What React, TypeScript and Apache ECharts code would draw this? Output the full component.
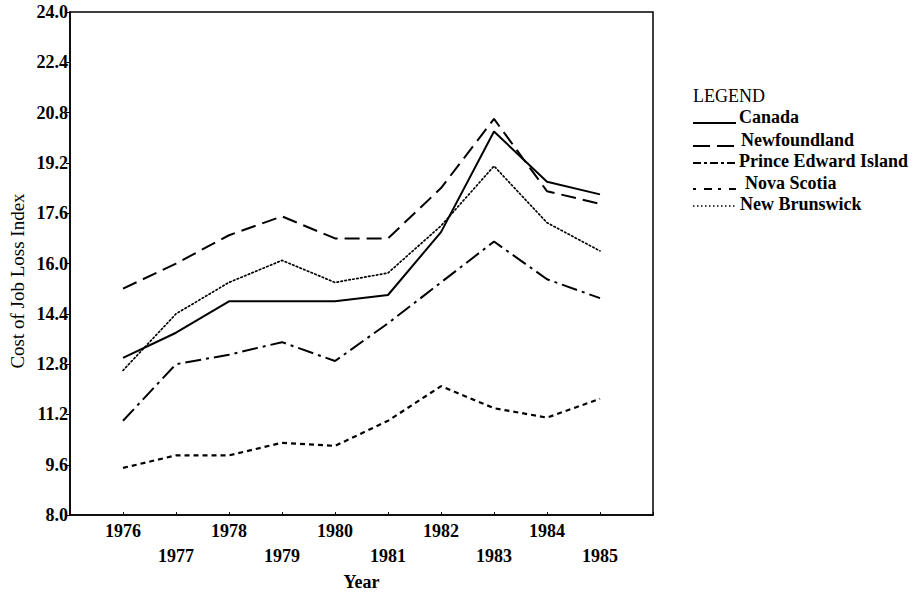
import React, { useEffect, useRef } from "react";
import * as echarts from "echarts";

const years = [1976, 1977, 1978, 1979, 1980, 1981, 1982, 1983, 1984, 1985];
const canada = [13.0, 13.8, 14.8, 14.8, 14.8, 15.0, 17.0, 20.2, 18.6, 18.2];
const newfoundland = [15.2, 16.0, 16.9, 17.5, 16.8, 16.8, 18.4, 20.6, 18.3, 17.9];
const princeEdwardIsland = [11.0, 12.8, 13.1, 13.5, 12.9, 14.1, 15.4, 16.7, 15.5, 14.9];
const novaScotia = [9.5, 9.9, 9.9, 10.3, 10.2, 11.0, 12.1, 11.4, 11.1, 11.7];
const newBrunswick = [12.6, 14.4, 15.4, 16.1, 15.4, 15.7, 17.2, 19.1, 17.3, 16.4];
const seriesNames = ["Canada", "Newfoundland", "Prince Edward Island", "Nova Scotia", "New Brunswick"];

const FONT = "Liberation Serif, Times New Roman, serif";

export default function App() {
  const ref = useRef<HTMLDivElement>(null);
  useEffect(() => {
    const chart = echarts.init(ref.current!, null, { renderer: "svg" });
    const dashes: any[] = ["solid", [15, 7], [16, 5, 3, 5], [5, 4], [1.5, 2.5]];
    const widths = [2, 2, 2, 2.2, 1.7];
    const values = [canada, newfoundland, princeEdwardIsland, novaScotia, newBrunswick];
    const series = values.map((vals, k) => ({
      name: seriesNames[k],
      type: "line",
      data: years.map((y, i) => [y, vals[i]]),
      symbol: "none",
      silent: true,
      lineStyle: { color: "#000", width: widths[k], type: dashes[k], cap: k === 4 ? "round" : "butt" },
    }));

    const legendX = 693;
    const textYs = [117, 140, 161, 183, 204];
    const lineYs = [123, 146, 163, 189, 206];
    const textXs = [739, 741, 739, 745, 740];
    const graphics: any[] = [
      {
        type: "text",
        x: legendX,
        y: 96,
        style: { text: "LEGEND", fontSize: 18, fontFamily: FONT, fill: "#000", verticalAlign: "middle" },
      },
      {
        type: "text",
        x: 17,
        y: 281,
        rotation: Math.PI / 2,
        style: {
          text: "Cost of Job Loss Index",
          fontSize: 19,
          fontFamily: FONT,
          fill: "#000",
          align: "center",
          verticalAlign: "middle",
        },
      },
    ];
    seriesNames.forEach((n, k) => {
      graphics.push({
        type: "line",
        shape: { x1: legendX, y1: lineYs[k], x2: legendX + 43, y2: lineYs[k] },
        style: {
          stroke: "#000",
          lineWidth: widths[k],
          lineDash: k === 0 ? null : k === 1 ? [17, 7] : k === 2 ? [8, 3, 3, 3] : k === 3 ? [3, 8, 8, 6] : [1.5, 2.5],
        },
      });
      graphics.push({
        type: "text",
        x: textXs[k],
        y: textYs[k],
        style: { text: n, fontSize: 18, fontWeight: "bold", fontFamily: FONT, fill: "#000", verticalAlign: "middle" },
      });
    });

    chart.setOption({
      animation: false,
      backgroundColor: "#fff",
      textStyle: { fontFamily: FONT, color: "#000" },
      grid: { left: 70, right: 270, top: 12, bottom: 76, show: true, borderColor: "#000", borderWidth: 1.5 },
      xAxis: {
        type: "value",
        min: 1975,
        max: 1986,
        interval: 1,
        name: "Year",
        nameLocation: "middle",
        nameGap: 53,
        nameTextStyle: { fontSize: 18, fontWeight: "bold", fontFamily: FONT, color: "#000" },
        axisLine: { show: true, lineStyle: { color: "#000", width: 1.5 } },
        axisTick: { show: true, inside: true, length: 3, lineStyle: { color: "#000" } },
        splitLine: { show: false },
        axisLabel: {
          margin: 3,
          fontSize: 18,
          fontWeight: "bold",
          fontFamily: FONT,
          color: "#000",
          lineHeight: 25,
          showMinLabel: true,
          showMaxLabel: true,
          formatter: (v: number) => {
            if (v < 1976 || v > 1985) return "";
            return (v - 1976) % 2 === 1 ? "\n" + v : String(v);
          },
        },
      },
      yAxis: {
        type: "value",
        min: 8,
        max: 24,
        interval: 1.6,
        axisLine: { show: true, lineStyle: { color: "#000", width: 1.5 } },
        axisTick: { show: true, length: 4, lineStyle: { color: "#000" } },
        splitLine: { show: false },
        axisLabel: {
          margin: 2,
          fontSize: 18,
          fontWeight: "bold",
          fontFamily: FONT,
          color: "#000",
          formatter: (v: number) => v.toFixed(1),
        },
      },
      graphic: graphics,
      series,
    });
    return () => chart.dispose();
  }, []);
  return <div ref={ref} style={{ position: "fixed", left: 0, top: 0, width: 923, height: 596 }} />;
}
